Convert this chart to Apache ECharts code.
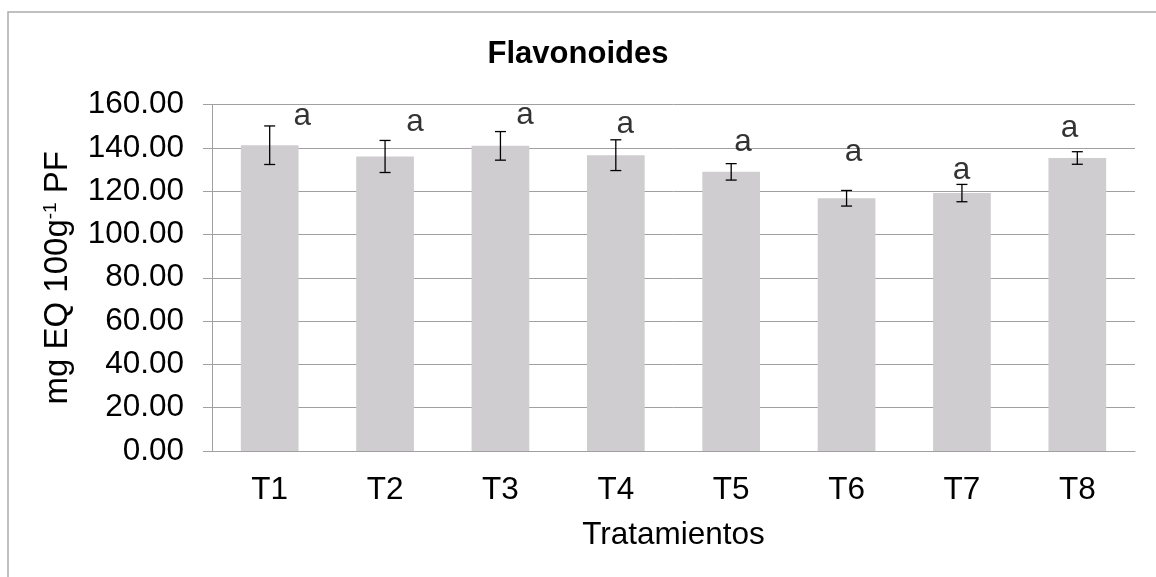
<!DOCTYPE html>
<html>
<head>
<meta charset="utf-8">
<title>Flavonoides</title>
<script src="https://cdn.jsdelivr.net/npm/echarts@6/dist/echarts.min.js"></script>
<style>
  html, body { margin: 0; padding: 0; background: #fff; }
  #chart { width: 1156px; height: 577px; }
</style>
</head>
<body>
<div id="chart"></div>
<script>
// tratamientos y valores medios (mg EQ 100g-1 PF)
const categories = ['T1', 'T2', 'T3', 'T4', 'T5', 'T6', 'T7', 'T8']
const means = [141.2, 136.0, 140.9, 136.6, 128.9, 116.7, 119.1, 135.3]
const errors = [8.9, 7.4, 6.6, 7.1, 3.8, 3.6, 4.0, 2.9]
// letras de significancia, posición en unidades de datos
const letters = ['a', 'a', 'a', 'a', 'a', 'a', 'a', 'a']
const letterX = [0.782, 1.759, 2.712, 3.581, 4.602, 5.560, 6.496, 7.433]
const letterY = [154.5, 152.0, 155.0, 150.8, 142.4, 137.9, 129.5, 149.0]
const yTicks = { min: 0, max: 160, interval: 20 }

const FONT = '"Liberation Sans", Arial, sans-serif'
const GRID_COLOR = '#a0a0a0'
const FS = 31.5

const chart = echarts.init(document.getElementById('chart'))

const errorData = means.map((m, i) => [i, m - errors[i], m + errors[i]])
const letterData = letterX.map((x, i) => [x, letterY[i], letters[i]])

const option = {
  backgroundColor: '#fff',
  animation: false,
  title: {
    text: 'Flavonoides',
    left: 'center',
    top: 34,
    textStyle: { fontFamily: FONT, fontSize: 31, fontWeight: 'bold', color: '#000' }
  },
  graphic: [{
    type: 'rect',
    shape: { x: 8, y: 12, width: 1160, height: 580 },
    style: { fill: 'none', stroke: '#acacac', lineWidth: 1.5 },
    silent: true
  }],
  grid: { left: 212, right: 21, top: 104.5, bottom: 126 },
  xAxis: [{
    type: 'category',
    data: categories,
    axisLine: { lineStyle: { color: GRID_COLOR, width: 1 } },
    axisTick: { show: false },
    axisLabel: { fontFamily: FONT, fontSize: FS, color: '#000', margin: 23 },
    name: 'Tratamientos',
    nameLocation: 'middle',
    nameGap: 68,
    nameTextStyle: { fontFamily: FONT, fontSize: FS, color: '#000' }
  }, {
    type: 'value',
    min: 0,
    max: 8,
    show: false
  }],
  yAxis: {
    type: 'value',
    min: yTicks.min,
    max: yTicks.max,
    interval: yTicks.interval,
    axisLine: { show: true, lineStyle: { color: GRID_COLOR, width: 1 } },
    axisTick: { show: true, length: 9, lineStyle: { color: GRID_COLOR } },
    splitLine: { lineStyle: { color: GRID_COLOR, width: 1 } },
    axisLabel: {
      fontFamily: FONT, fontSize: FS, color: '#000', margin: 28,
      formatter: v => v.toFixed(2)
    },
    name: '{n|mg EQ 100g}{s|-1}{n| PF}',
    nameLocation: 'middle',
    nameGap: 137,
    nameTextStyle: {
      rich: {
        n: { fontFamily: FONT, fontSize: 33, color: '#000', lineHeight: 34 },
        s: { fontFamily: FONT, fontSize: 19, color: '#000', verticalAlign: 'top', lineHeight: 34 }
      }
    }
  },
  series: [
    {
      type: 'bar',
      data: means,
      barCategoryGap: '50%',
      itemStyle: { color: '#cfcdcf' },
      silent: true
    },
    {
      type: 'custom',
      data: errorData,
      z: 5,
      renderItem: (params, api) => {
        const x = api.value(0)
        const lo = api.coord([x, api.value(1)])
        const hi = api.coord([x, api.value(2)])
        const hw = 5.5
        const style = { stroke: '#000', lineWidth: 1.3 }
        return {
          type: 'group',
          children: [
            { type: 'line', shape: { x1: hi[0], y1: hi[1], x2: lo[0], y2: lo[1] }, style },
            { type: 'line', shape: { x1: hi[0] - hw, y1: hi[1], x2: hi[0] + hw, y2: hi[1] }, style },
            { type: 'line', shape: { x1: lo[0] - hw, y1: lo[1], x2: lo[0] + hw, y2: lo[1] }, style }
          ]
        }
      }
    },
    {
      type: 'scatter',
      xAxisIndex: 1,
      data: letterData,
      symbolSize: 0,
      z: 6,
      label: {
        show: true,
        position: 'inside',
        formatter: p => p.data[2],
        fontFamily: FONT,
        fontSize: FS,
        color: '#000'
      },
      silent: true
    }
  ]
}

chart.setOption(option)
</script>
</body>
</html>
